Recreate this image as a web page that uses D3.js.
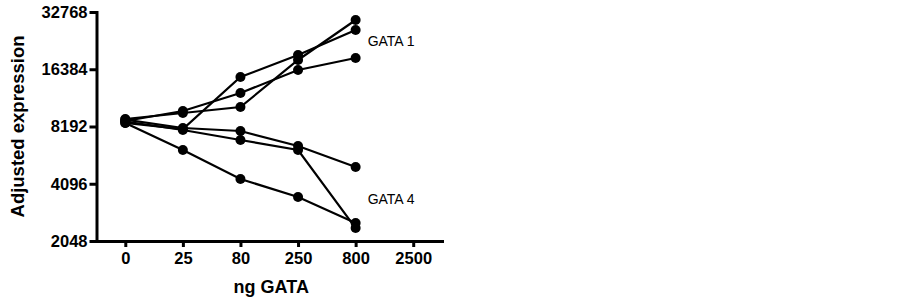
<!DOCTYPE html>
<html>
<head>
<meta charset="utf-8">
<script src="https://cdn.jsdelivr.net/npm/d3@7"></script>
<style>
  body { margin: 0; background: #fff; }
  svg text { font-family: Arial, "Liberation Sans", sans-serif; }
  .axis text { font-weight: bold; font-size: 16.5px; fill: #000; }
  .axis path, .axis line { stroke: #000; stroke-width: 3; }
</style>
</head>
<body>
<div id="chart"></div>
<script>
// doses (categorical x)
const doses = ['0', '25', '80', '250', '800', '2500'];
const yTicks = [2048, 4096, 8192, 16384, 32768];

// adjusted expression per replicate
const gata1A = [8755, 9884, 12290, 16240, 18780];
const gata1B = [8970, 9647, 10375, 18330, 29740];
const gata1C = [8546, 7947, 14913, 19470, 26350];
const gata4A = [8900, 8045, 7757, 6468, 5018];
const gata4B = [8700, 7852, 6957, 6164, 2396];
const gata4C = [8546, 6164, 4338, 3490, 2546];

const seriesList = [gata1A, gata1B, gata1C, gata4A, gata4B, gata4C];
const labels = [
  {text: 'GATA 1', dose: '800', value: 23000},
  {text: 'GATA 4', dose: '800', value: 3400}
];

const width = 903, height = 299;
const plot = {left: 96.5, right: 442, top: 12, bottom: 241};

const svg = d3.select('#chart').append('svg')
    .attr('width', width)
    .attr('height', height);

const x = d3.scalePoint()
    .domain(doses)
    .range([plot.left, plot.right])
    .padding(0.5);

const y = d3.scaleLog()
    .base(2)
    .domain([2048, 32768])
    .range([plot.bottom, plot.top]);

// axes
svg.append('g')
    .attr('class', 'axis x-axis')
    .attr('transform', `translate(0,${plot.bottom})`)
    .call(d3.axisBottom(x).tickSize(6).tickSizeOuter(0).tickPadding(5));

svg.append('g')
    .attr('class', 'axis y-axis')
    .attr('transform', `translate(${plot.left},0)`)
    .call(d3.axisLeft(y).tickValues(yTicks).tickFormat(d3.format('d'))
      .tickSize(7).tickSizeOuter(0).tickPadding(2));

svg.selectAll('.axis .domain').attr('stroke-linecap', 'square');

// lines + markers
const line = d3.line()
    .x((d, i) => x(doses[i]))
    .y(d => y(d));

svg.append('g').selectAll('path')
    .data(seriesList)
  .join('path')
    .attr('d', line)
    .attr('fill', 'none')
    .attr('stroke', '#000')
    .attr('stroke-width', 2.2);

seriesList.forEach(s => {
  svg.append('g').selectAll('circle')
      .data(s)
    .join('circle')
      .attr('cx', (d, i) => x(doses[i]))
      .attr('cy', d => y(d))
      .attr('r', 5)
      .attr('fill', '#000');
});

// series labels
svg.selectAll('.series-label')
    .data(labels)
  .join('text')
    .attr('class', 'series-label')
    .attr('x', d => x(d.dose) + 12)
    .attr('y', d => y(d.value))
    .attr('dy', '0.35em')
    .attr('font-size', 14)
    .text(d => d.text);

// axis titles
svg.append('text')
    .attr('transform', `translate(24,${(plot.top + plot.bottom) / 2}) rotate(-90)`)
    .attr('text-anchor', 'middle')
    .attr('font-weight', 'bold')
    .attr('font-size', 18.5)
    .text('Adjusted expression');

svg.append('text')
    .attr('x', (plot.left + plot.right) / 2 + 2)
    .attr('y', 293)
    .attr('text-anchor', 'middle')
    .attr('font-weight', 'bold')
    .attr('font-size', 18)
    .text('ng GATA');
</script>
</body>
</html>
